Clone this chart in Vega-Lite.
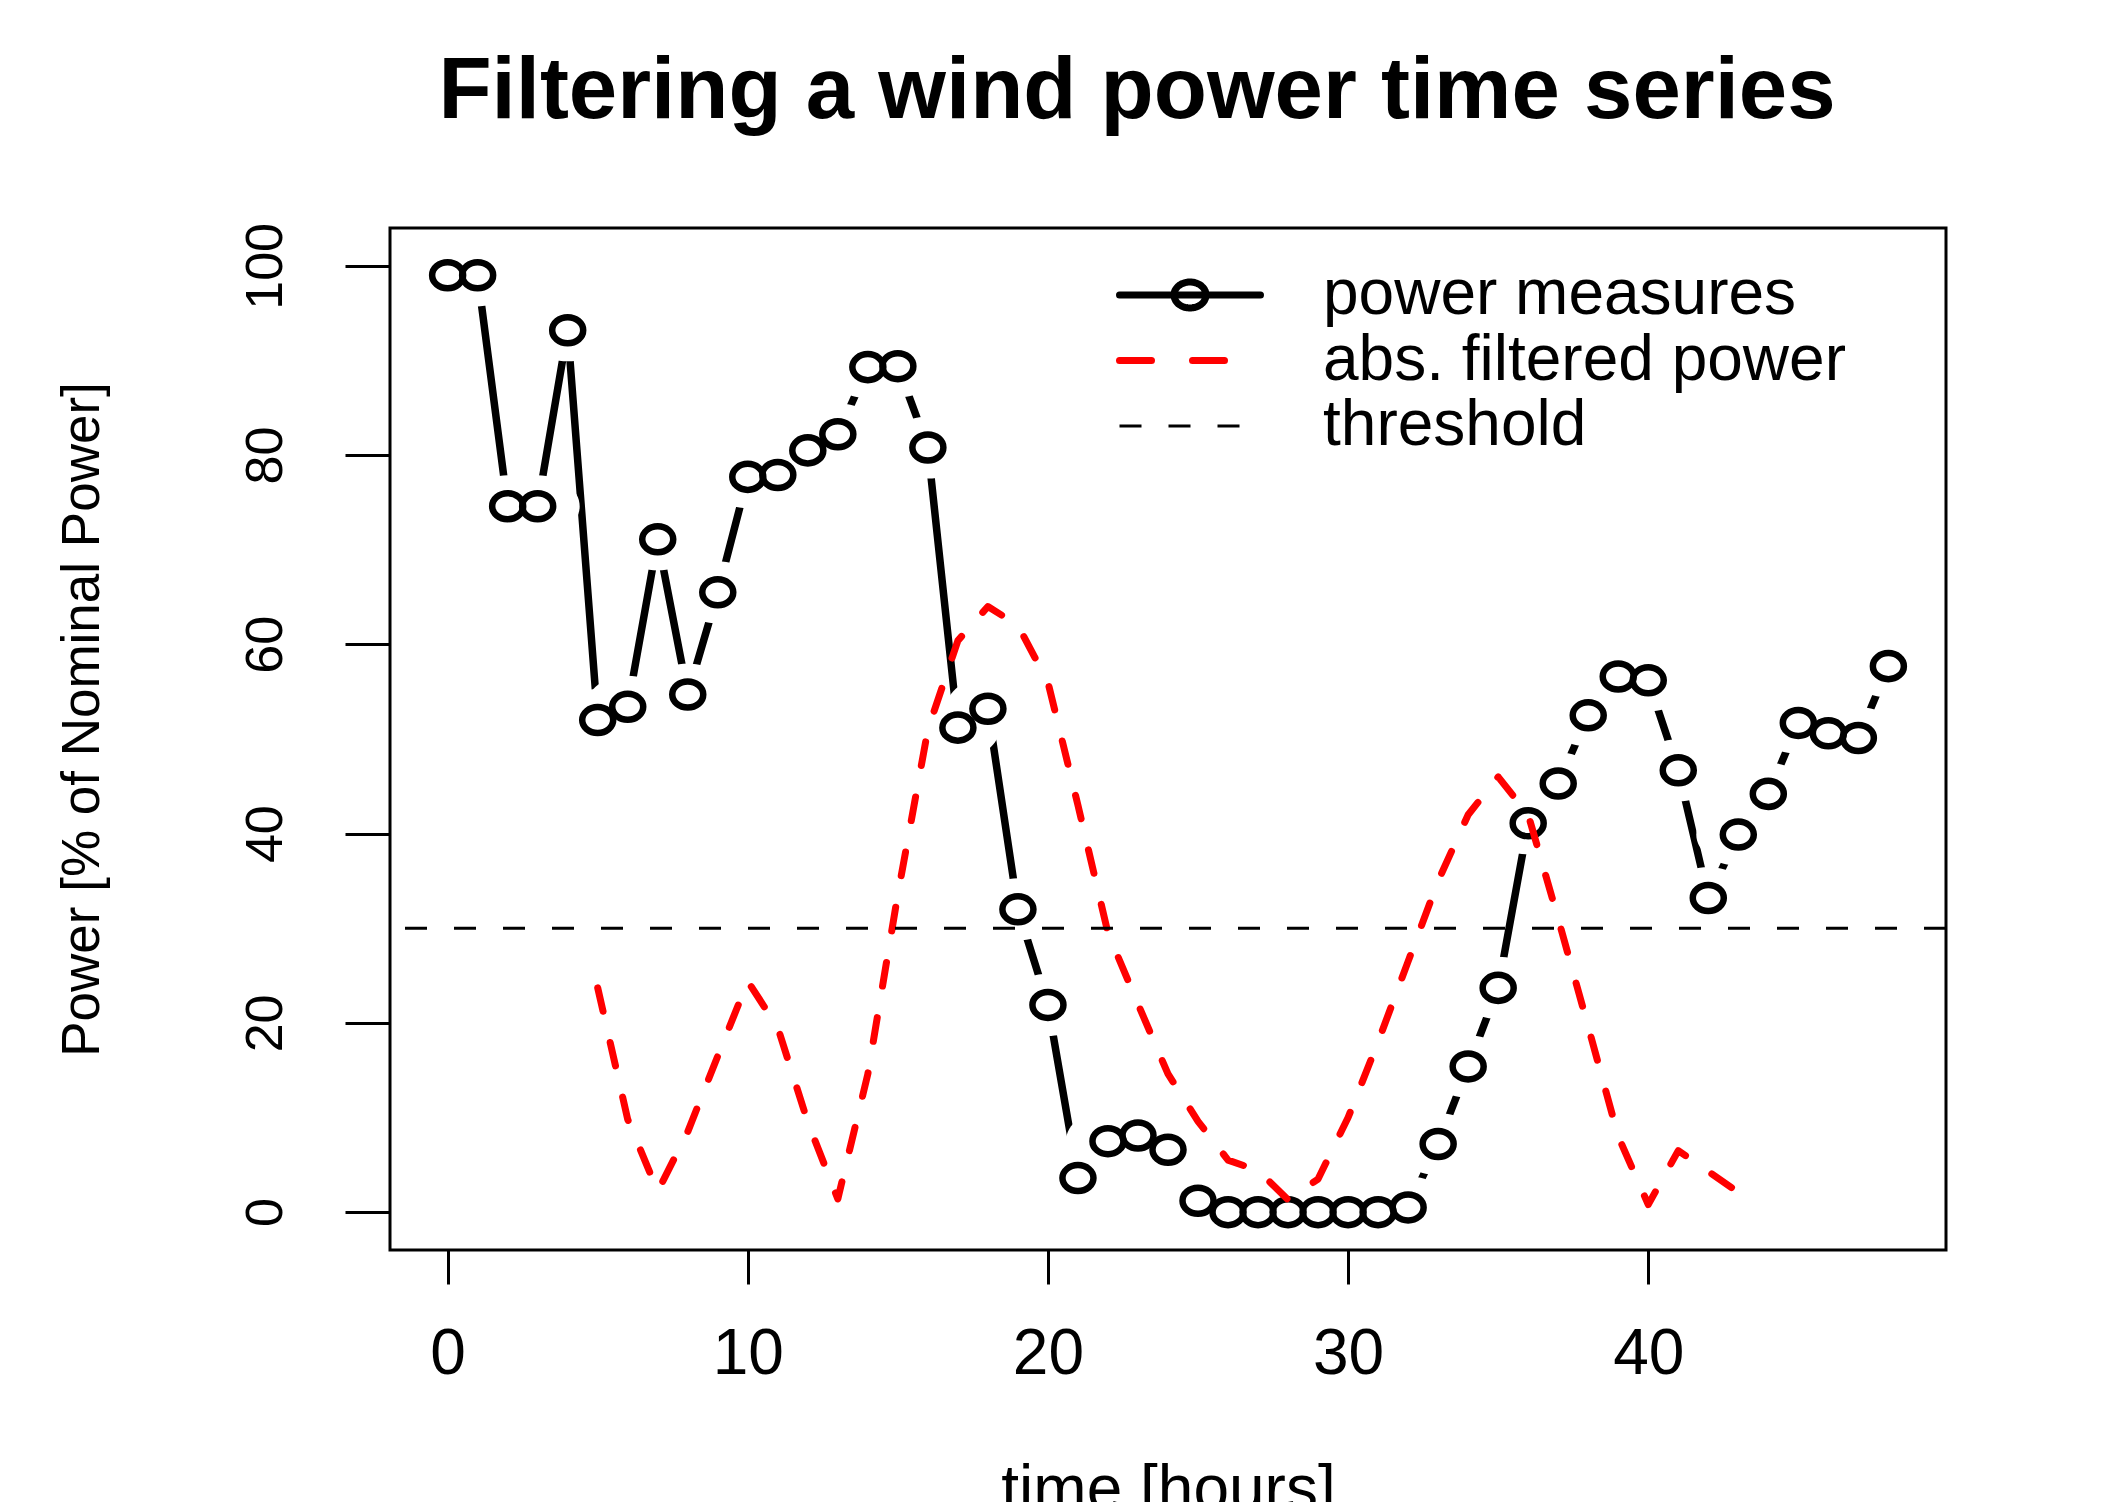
{
  "$schema": "https://vega.github.io/schema/vega-lite/v6.json",
  "width": 1556,
  "height": 1022,
  "autosize": {"type": "none"},
  "padding": {"left": 390, "top": 228, "right": 155, "bottom": 252},
  "background": "white",
  "title": {
    "text": "Filtering a wind power time series",
    "font": "Liberation Sans",
    "fontSize": 87,
    "fontWeight": "bold",
    "color": "black",
    "anchor": "middle",
    "baseline": "alphabetic",
    "offset": 17,
    "dx": -31
  },
  "config": {
    "view": {"stroke": "black", "strokeWidth": 3},
    "axis": {
      "domain": false,
      "grid": false,
      "ticks": true,
      "tickColor": "black",
      "tickWidth": 3,
      "labelColor": "black",
      "labelFont": "Liberation Sans",
      "titleFont": "Liberation Sans",
      "titleColor": "black",
      "titleFontWeight": "normal",
      "labelFlush": false,
      "labelOverlap": false
    }
  },
  "datasets": {
    "measures": [
      {"t": 0, "value": 99.0, "series": "power measures"},
      {"t": 1, "value": 99.0, "series": "power measures"},
      {"t": 2, "value": 74.6, "series": "power measures"},
      {"t": 3, "value": 74.6, "series": "power measures"},
      {"t": 4, "value": 93.2, "series": "power measures"},
      {"t": 5, "value": 52.0, "series": "power measures"},
      {"t": 6, "value": 53.4, "series": "power measures"},
      {"t": 7, "value": 71.1, "series": "power measures"},
      {"t": 8, "value": 54.7, "series": "power measures"},
      {"t": 9, "value": 65.5, "series": "power measures"},
      {"t": 10, "value": 77.7, "series": "power measures"},
      {"t": 11, "value": 77.9, "series": "power measures"},
      {"t": 12, "value": 80.5, "series": "power measures"},
      {"t": 13, "value": 82.2, "series": "power measures"},
      {"t": 14, "value": 89.3, "series": "power measures"},
      {"t": 15, "value": 89.4, "series": "power measures"},
      {"t": 16, "value": 80.8, "series": "power measures"},
      {"t": 17, "value": 51.2, "series": "power measures"},
      {"t": 18, "value": 53.2, "series": "power measures"},
      {"t": 19, "value": 32.0, "series": "power measures"},
      {"t": 20, "value": 21.9, "series": "power measures"},
      {"t": 21, "value": 3.6, "series": "power measures"},
      {"t": 22, "value": 7.5, "series": "power measures"},
      {"t": 23, "value": 8.1, "series": "power measures"},
      {"t": 24, "value": 6.6, "series": "power measures"},
      {"t": 25, "value": 1.2, "series": "power measures"},
      {"t": 26, "value": 0.0, "series": "power measures"},
      {"t": 27, "value": 0.0, "series": "power measures"},
      {"t": 28, "value": 0.0, "series": "power measures"},
      {"t": 29, "value": 0.0, "series": "power measures"},
      {"t": 30, "value": 0.0, "series": "power measures"},
      {"t": 31, "value": 0.0, "series": "power measures"},
      {"t": 32, "value": 0.5, "series": "power measures"},
      {"t": 33, "value": 7.2, "series": "power measures"},
      {"t": 34, "value": 15.4, "series": "power measures"},
      {"t": 35, "value": 23.7, "series": "power measures"},
      {"t": 36, "value": 41.1, "series": "power measures"},
      {"t": 37, "value": 45.3, "series": "power measures"},
      {"t": 38, "value": 52.5, "series": "power measures"},
      {"t": 39, "value": 56.6, "series": "power measures"},
      {"t": 40, "value": 56.2, "series": "power measures"},
      {"t": 41, "value": 46.7, "series": "power measures"},
      {"t": 42, "value": 33.2, "series": "power measures"},
      {"t": 43, "value": 39.9, "series": "power measures"},
      {"t": 44, "value": 44.2, "series": "power measures"},
      {"t": 45, "value": 51.7, "series": "power measures"},
      {"t": 46, "value": 50.6, "series": "power measures"},
      {"t": 47, "value": 50.1, "series": "power measures"},
      {"t": 48, "value": 57.7, "series": "power measures"}
    ],
    "filtered": [
      {"t": 5, "value": 23.7, "series": "abs. filtered power"},
      {"t": 6, "value": 9.8, "series": "abs. filtered power"},
      {"t": 7, "value": 2.2, "series": "abs. filtered power"},
      {"t": 8, "value": 8.5, "series": "abs. filtered power"},
      {"t": 9, "value": 16.5, "series": "abs. filtered power"},
      {"t": 10, "value": 24.4, "series": "abs. filtered power"},
      {"t": 11, "value": 19.5, "series": "abs. filtered power"},
      {"t": 12, "value": 9.5, "series": "abs. filtered power"},
      {"t": 13, "value": 1.4, "series": "abs. filtered power"},
      {"t": 14, "value": 14.6, "series": "abs. filtered power"},
      {"t": 15, "value": 33.6, "series": "abs. filtered power"},
      {"t": 16, "value": 51.0, "series": "abs. filtered power"},
      {"t": 17, "value": 60.4, "series": "abs. filtered power"},
      {"t": 18, "value": 64.0, "series": "abs. filtered power"},
      {"t": 19, "value": 62.0, "series": "abs. filtered power"},
      {"t": 20, "value": 56.0, "series": "abs. filtered power"},
      {"t": 21, "value": 43.0, "series": "abs. filtered power"},
      {"t": 22, "value": 29.5, "series": "abs. filtered power"},
      {"t": 23, "value": 22.0, "series": "abs. filtered power"},
      {"t": 24, "value": 14.6, "series": "abs. filtered power"},
      {"t": 25, "value": 9.6, "series": "abs. filtered power"},
      {"t": 26, "value": 5.5, "series": "abs. filtered power"},
      {"t": 27, "value": 4.4, "series": "abs. filtered power"},
      {"t": 28, "value": 1.3, "series": "abs. filtered power"},
      {"t": 29, "value": 3.5, "series": "abs. filtered power"},
      {"t": 30, "value": 10.0, "series": "abs. filtered power"},
      {"t": 31, "value": 18.0, "series": "abs. filtered power"},
      {"t": 32, "value": 26.5, "series": "abs. filtered power"},
      {"t": 33, "value": 35.0, "series": "abs. filtered power"},
      {"t": 34, "value": 42.0, "series": "abs. filtered power"},
      {"t": 35, "value": 46.0, "series": "abs. filtered power"},
      {"t": 36, "value": 42.0, "series": "abs. filtered power"},
      {"t": 37, "value": 31.0, "series": "abs. filtered power"},
      {"t": 38, "value": 19.6, "series": "abs. filtered power"},
      {"t": 39, "value": 8.0, "series": "abs. filtered power"},
      {"t": 40, "value": 0.8, "series": "abs. filtered power"},
      {"t": 41, "value": 6.5, "series": "abs. filtered power"},
      {"t": 42, "value": 4.3, "series": "abs. filtered power"},
      {"t": 43, "value": 2.1, "series": "abs. filtered power"}
    ],
    "threshold": [
      {"value": 30, "series": "threshold"}
    ]
  },
  "layer": [
    {
      "data": {"name": "measures"},
      "mark": {"type": "line", "strokeWidth": 7.5, "strokeCap": "round", "strokeJoin": "round"},
      "encoding": {
        "x": {
          "field": "t", "type": "quantitative",
          "scale": {"domain": [-1.92, 49.92], "nice": false, "zero": false},
          "axis": {
            "values": [0, 10, 20, 30, 40],
            "tickSize": 34,
            "labelFontSize": 64,
            "labelBaseline": "alphabetic",
            "labelPadding": 89,
            "title": "time [hours]",
            "titleFontSize": 64,
            "titleX": 778,
            "titleY": 259,
            "titleAlign": "center",
            "titleBaseline": "alphabetic"
          }
        },
        "y": {
          "field": "value", "type": "quantitative",
          "scale": {"domain": [-4, 104], "nice": false, "zero": false},
          "axis": {
            "values": [0, 20, 40, 60, 80, 100],
            "tickSize": 45,
            "labelFontSize": 52,
            "labelAngle": 270,
            "labelAlign": "center",
            "labelBaseline": "alphabetic",
            "labelPadding": 63.5,
            "title": "Power [% of Nominal Power]",
            "titleFontSize": 53,
            "titleAngle": 270,
            "titleX": -292,
            "titleY": 491,
            "titleAlign": "center",
            "titleBaseline": "alphabetic"
          }
        },
        "color": {
          "field": "series", "type": "nominal",
          "scale": {"domain": ["power measures", "abs. filtered power", "threshold"], "range": ["#000000", "#ff0000", "#000000"]},
          "legend": {
            "title": null,
            "orient": "none",
            "legendX": 768,
            "legendY": 35,
            "padding": 0,
            "symbolType": "stroke",
            "symbolSize": 19881,
            "rowPadding": 1.5,
            "labelFont": "Liberation Sans",
            "labelFontSize": 64,
            "labelColor": "black",
            "labelLimit": 2000,
            "labelOffset": 101,
            "encode": {
              "symbols": {
                "update": {
                  "shape": {"signal": "datum.value === 'power measures' ? 'M-1,0H1M-0.227,0C-0.227,-0.102 -0.125,-0.184 0,-0.184C0.125,-0.184 0.227,-0.102 0.227,0C0.227,0.102 0.125,0.184 0,0.184C-0.125,0.184 -0.227,0.102 -0.227,0Z' : 'M-1,0H1'"},
                  "fill": {"value": "transparent"},
                  "strokeWidth": {"signal": "datum.value === 'threshold' ? 3 : 7"},
                  "strokeDash": {"signal": "datum.value === 'threshold' ? [22, 27] : (datum.value === 'abs. filtered power' ? [32, 41] : [1, 0])"},
                  "strokeCap": {"signal": "datum.value === 'threshold' ? 'butt' : 'round'"}
                }
              }
            }
          }
        }
      }
    },
    {
      "data": {"name": "measures"},
      "mark": {
        "type": "point",
        "shape": "M-1,0C-1,-0.408 -0.552,-0.74 0,-0.74C0.552,-0.74 1,-0.408 1,0C1,0.408 0.552,0.74 0,0.74C-0.552,0.74 -1,0.408 -1,0Z",
        "size": 7056,
        "filled": true,
        "fill": "white",
        "strokeWidth": 0,
        "opacity": 1
      },
      "encoding": {
        "x": {"field": "t", "type": "quantitative"},
        "y": {"field": "value", "type": "quantitative"}
      }
    },
    {
      "data": {"name": "measures"},
      "mark": {
        "type": "point",
        "shape": "M-1,0C-1,-0.464 -0.552,-0.84 0,-0.84C0.552,-0.84 1,-0.464 1,0C1,0.464 0.552,0.84 0,0.84C-0.552,0.84 -1,0.464 -1,0Z",
        "size": 961,
        "filled": false,
        "stroke": "black",
        "strokeWidth": 6.5,
        "opacity": 1
      },
      "encoding": {
        "x": {"field": "t", "type": "quantitative"},
        "y": {"field": "value", "type": "quantitative"}
      }
    },
    {
      "data": {"name": "filtered"},
      "mark": {"type": "line", "strokeWidth": 7, "strokeDash": [24, 32], "strokeCap": "round", "strokeJoin": "round"},
      "encoding": {
        "x": {"field": "t", "type": "quantitative"},
        "y": {"field": "value", "type": "quantitative"},
        "color": {"field": "series", "type": "nominal"}
      }
    },
    {
      "data": {"name": "threshold"},
      "mark": {"type": "rule", "strokeWidth": 3, "strokeDash": [22, 27], "strokeCap": "butt"},
      "encoding": {
        "y": {"field": "value", "type": "quantitative"},
        "color": {"field": "series", "type": "nominal"}
      }
    }
  ]
}
